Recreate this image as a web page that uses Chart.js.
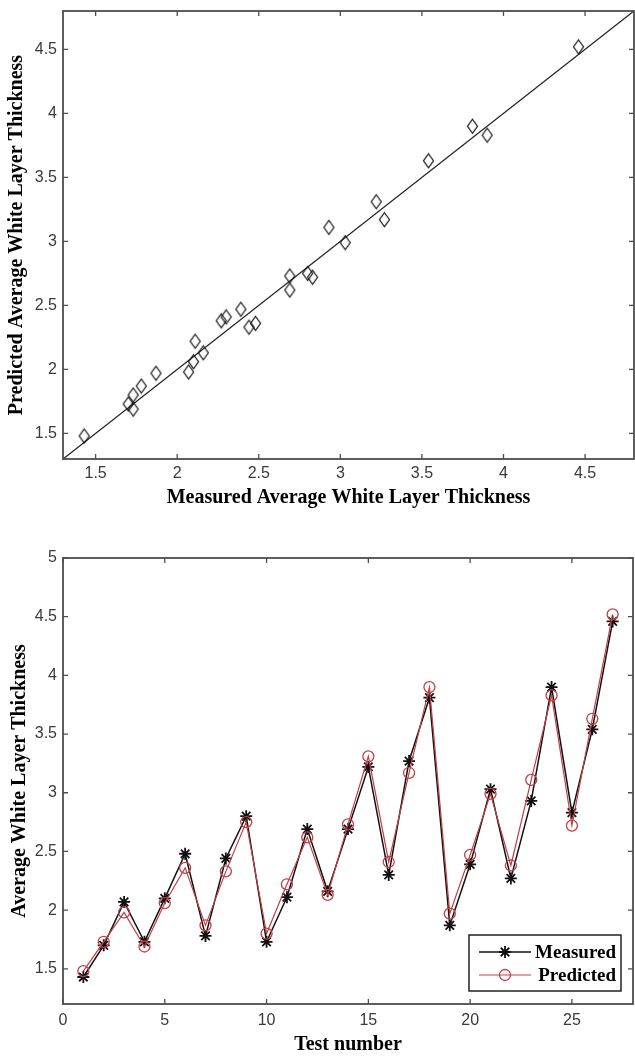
<!DOCTYPE html>
<html>
<head>
<meta charset="utf-8">
<script src="https://cdn.jsdelivr.net/npm/chart.js@4.4.1/dist/chart.umd.min.js"></script>
<style>
    html, body { margin: 0; padding: 0; background: #fff; overflow: hidden; }
    #wrapTop { position: absolute; left: 0; top: 0; width: 635px; height: 512px; }
    #wrapBottom { position: absolute; left: 0; top: 510px; width: 635px; height: 548px; }
</style>
</head>
<body>
<div id="wrapTop"><canvas id="scatter"></canvas></div>
<div id="wrapBottom"><canvas id="tests"></canvas></div>
<script>
// Datos
var testNumber = [1, 2, 3, 4, 5, 6, 7, 8, 9, 10, 11, 12, 13, 14, 15, 16, 17, 18, 19, 20, 21, 22, 23, 24, 25, 26, 27];
var measured = [1.43, 1.70, 2.07, 1.73, 2.10, 2.48, 1.78, 2.44, 2.80, 1.73, 2.11, 2.69, 2.16, 2.69, 3.22, 2.30, 3.27, 3.81, 1.87, 2.39, 3.03, 2.27, 2.93, 3.90, 2.83, 3.54, 4.46];
var predicted = [1.48, 1.73, 1.98, 1.69, 2.06, 2.36, 1.87, 2.33, 2.75, 1.80, 2.22, 2.62, 2.13, 2.73, 3.31, 2.41, 3.17, 3.90, 1.97, 2.47, 2.99, 2.38, 3.11, 3.83, 2.72, 3.63, 4.52];
var fitLineX = [1.3, 4.8];
var fitLineY = [1.3, 4.8];
var scatterTicks = [1.5, 2, 2.5, 3, 3.5, 4, 4.5];
var testTicksX = [0, 5, 10, 15, 20, 25];
var testTicksY = [1.5, 2, 2.5, 3, 3.5, 4, 4.5, 5];

var tickFont = { family: '"Liberation Sans", Arial, sans-serif', size: 16 };
var titleFont = { family: '"Liberation Serif", "Times New Roman", serif', size: 20, weight: 'bold' };

// marco tipo MATLAB con ticks hacia dentro en los cuatro lados
var boxTicks = {
    id: 'boxTicks',
    afterDatasetsDraw: function (chart) {
        var ctx = chart.ctx, a = chart.chartArea;
        var sx = chart.scales.x, sy = chart.scales.y;
        ctx.save();
        ctx.strokeStyle = '#4d4d4d';
        ctx.lineWidth = 1.3;
        ctx.beginPath();
        sx.ticks.forEach(function (t) {
            var px = sx.getPixelForValue(t.value);
            ctx.moveTo(px, a.bottom); ctx.lineTo(px, a.bottom - 5);
            ctx.moveTo(px, a.top); ctx.lineTo(px, a.top + 5);
        });
        sy.ticks.forEach(function (t) {
            var py = sy.getPixelForValue(t.value);
            ctx.moveTo(a.left, py); ctx.lineTo(a.left + 5, py);
            ctx.moveTo(a.right, py); ctx.lineTo(a.right - 5, py);
        });
        ctx.stroke();
        ctx.lineWidth = 1.8;
        ctx.strokeRect(a.left, a.top, a.right - a.left, a.bottom - a.top);
        ctx.restore();
    }
};

// leyenda dentro del area, abajo a la derecha
var insideLegend = {
    id: 'insideLegend',
    afterDraw: function (chart) {
        var ctx = chart.ctx, a = chart.chartArea;
        var w = 152, h = 56;
        var left = a.right - 12 - w, top = a.bottom - 13 - h;
        ctx.save();
        ctx.fillStyle = '#fff';
        ctx.fillRect(left, top, w, h);
        ctx.strokeStyle = '#222';
        ctx.lineWidth = 1.5;
        ctx.strokeRect(left, top, w, h);
        chart.data.datasets.forEach(function (ds, i) {
            var y = top + 17 + i * 23;
            ctx.strokeStyle = ds.borderColor;
            ctx.lineWidth = ds.borderWidth;
            ctx.beginPath();
            ctx.moveTo(left + 10, y);
            ctx.lineTo(left + 62, y);
            ctx.stroke();
            ctx.fillStyle = 'rgba(0,0,0,0)';
            ctx.lineWidth = ds.pointBorderWidth;
            Chart.helpers.drawPoint(ctx, {
                pointStyle: ds.pointStyle,
                radius: ds.pointRadius,
                borderWidth: ds.pointBorderWidth,
                rotation: 0
            }, left + 36, y);
            ctx.fillStyle = '#000';
            ctx.font = 'bold 19px "Liberation Serif", "Times New Roman", serif';
            ctx.textBaseline = 'middle';
            ctx.textAlign = 'right';
            ctx.fillText(ds.label, left + w - 5, y + 1);
        });
        ctx.restore();
    }
};

// rombo mas alto que ancho, como el marcador de MATLAB
var diamond = document.createElement('canvas');
diamond.width = 13;
diamond.height = 17;
(function () {
    var c = diamond.getContext('2d');
    c.strokeStyle = '#111';
    c.lineWidth = 1.2;
    c.beginPath();
    c.moveTo(6.5, 1.5);
    c.lineTo(11.5, 8.5);
    c.lineTo(6.5, 15.5);
    c.lineTo(1.5, 8.5);
    c.closePath();
    c.stroke();
})();

function fixedTicks(values) {
    return function (scale) {
        scale.ticks = values.map(function (v) { return { value: v }; });
    };
}

// tamaño fijo del eje sin relleno extra por las etiquetas
function fixSize(prop, size) {
    return function (s) {
        s[prop] = size;
        s.paddingLeft = 0;
        s.paddingRight = 0;
        s.paddingTop = 0;
        s.paddingBottom = 0;
    };
}

function baseAxis(min, max, values, title, titlePad, tickPad, fit) {
    return {
        type: 'linear',
        min: min,
        max: max,
        afterBuildTicks: fixedTicks(values),
        afterFit: fit,
        grid: { display: false, drawTicks: false },
        border: { display: false },
        ticks: {
            font: tickFont,
            color: '#3a3a3a',
            padding: tickPad,
            autoSkip: false,
            maxRotation: 0,
            callback: function (v) { return String(v); }
        },
        title: {
            display: true,
            text: title,
            font: titleFont,
            color: '#000',
            padding: titlePad
        }
    };
}

document.addEventListener('DOMContentLoaded', function () {
    // Grafico de medido vs predicho
    var ctxScatter = document.getElementById('scatter');
    new Chart(ctxScatter, {
        type: 'scatter',
        data: {
            datasets: [{
                label: 'Data',
                data: measured.map(function (m, i) { return { x: m, y: predicted[i] }; }),
                pointStyle: diamond,
                pointRadius: 6,
                showLine: false
            },
            {
                label: 'Fit',
                data: fitLineX.map(function (x, i) { return { x: x, y: fitLineY[i] }; }),
                showLine: true,
                borderColor: '#222',
                borderWidth: 1.3,
                pointRadius: 0
            }]
        },
        options: {
            responsive: true,
            maintainAspectRatio: false,
            animation: false,
            layout: { autoPadding: false, padding: { top: 11, right: 1, left: 0, bottom: 0 } },
            scales: {
                x: baseAxis(1.3, 4.8, scatterTicks, 'Measured Average White Layer Thickness',
                    { top: 0, bottom: 2 }, 5, fixSize('height', 53)),
                y: baseAxis(1.3, 4.8, scatterTicks, 'Predicted Average White Layer Thickness',
                    { top: 5, bottom: 0 }, 6, fixSize('width', 63))
            },
            plugins: {
                legend: { display: false },
                tooltip: { enabled: false }
            }
        },
        plugins: [boxTicks]
    });

    // Grafico por numero de ensayo
    var ctxTests = document.getElementById('tests');
    new Chart(ctxTests, {
        type: 'scatter',
        data: {
            datasets: [{
                label: 'Measured',
                data: testNumber.map(function (t, i) { return { x: t, y: measured[i] }; }),
                showLine: true,
                borderColor: '#111',
                borderWidth: 1.5,
                pointStyle: 'star',
                pointRadius: 6,
                pointBorderWidth: 1.8,
                pointBorderColor: '#111',
                pointBackgroundColor: 'rgba(0,0,0,0)',
                order: 1
            },
            {
                label: 'Predicted',
                data: testNumber.map(function (t, i) { return { x: t, y: predicted[i] }; }),
                showLine: true,
                borderColor: '#bf4048',
                borderWidth: 1.2,
                pointStyle: 'circle',
                pointRadius: 5.5,
                pointBorderWidth: 1.3,
                pointBorderColor: '#bf4048',
                pointBackgroundColor: 'rgba(0,0,0,0)',
                order: 0
            }]
        },
        options: {
            responsive: true,
            maintainAspectRatio: false,
            animation: false,
            layout: { autoPadding: false, padding: { top: 48, right: 2, left: 0, bottom: 0 } },
            scales: {
                x: baseAxis(0, 28, testTicksX, 'Test number',
                    { top: 0, bottom: 1 }, 7, fixSize('height', 54)),
                y: baseAxis(1.2, 5, testTicksY, 'Average White Layer Thickness',
                    { top: 8, bottom: 0 }, 6, fixSize('width', 63))
            },
            plugins: {
                legend: { display: false },
                tooltip: { enabled: false }
            }
        },
        plugins: [boxTicks, insideLegend]
    });
});
</script>
</body>
</html>
